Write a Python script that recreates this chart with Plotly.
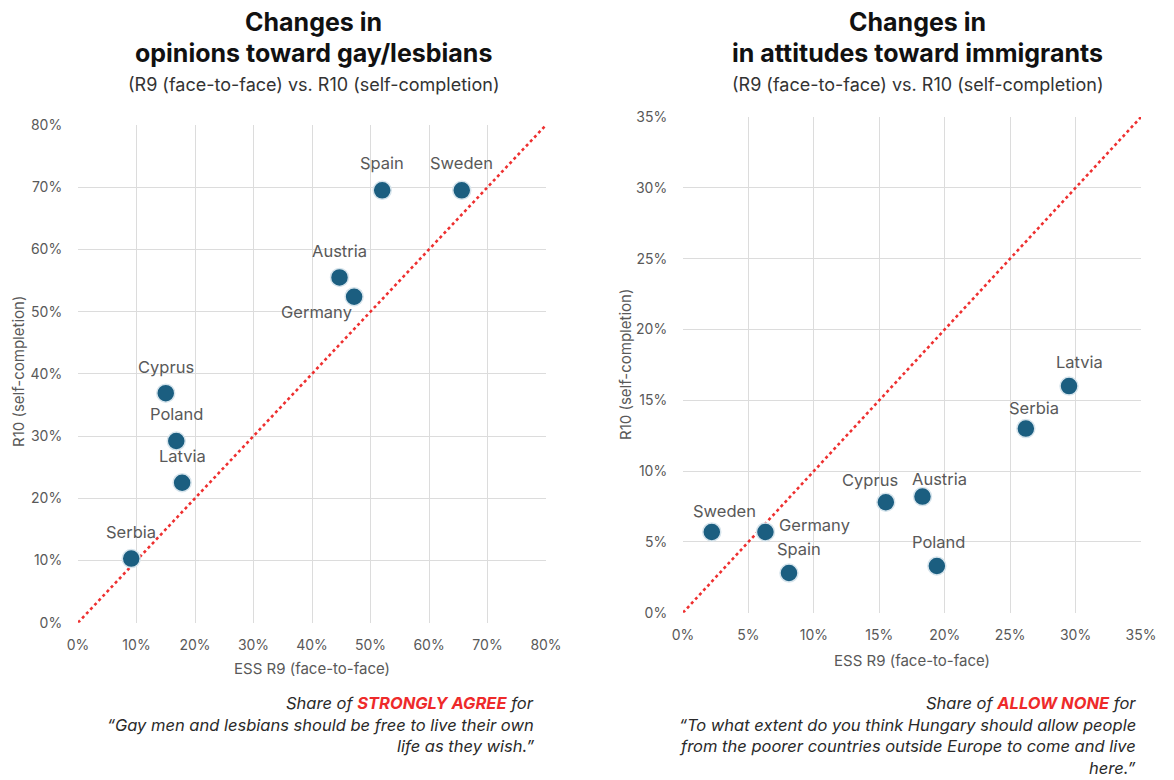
import plotly.graph_objects as go

# ---- data ----
gay_countries = ["Spain", "Sweden", "Austria", "Germany", "Cyprus", "Poland", "Latvia", "Serbia"]
gay_r9 = [52.0, 65.6, 44.7, 47.2, 15.0, 16.8, 17.8, 9.1]
gay_r10 = [69.5, 69.5, 55.5, 52.4, 36.9, 29.2, 22.5, 10.3]

imm_countries = ["Sweden", "Germany", "Spain", "Cyprus", "Austria", "Poland", "Serbia", "Latvia"]
imm_r9 = [2.2, 6.3, 8.1, 15.5, 18.3, 19.4, 26.2, 29.5]
imm_r10 = [5.7, 5.7, 2.8, 7.8, 8.2, 3.3, 13.0, 16.0]

gay_range = [0, 80]
imm_range = [0, 35]
gay_ticks = [0, 10, 20, 30, 40, 50, 60, 70, 80]
imm_ticks = [0, 5, 10, 15, 20, 25, 30, 35]

# label offsets in pixels (dx, dy upward)
gay_offsets = [(0, 27), (0, 27), (0, 26), (-38, -15), (0, 26), (0, 27), (0, 27), (0, 27)]
imm_offsets = [(13, 21), (49, 7), (10, 24), (-16, 22), (17, 18), (2, 24), (8, 21), (10, 24)]

FONT = "Inter"
GREY = "#595959"
MARK = "#1b5e80"
OFF = 8                      # page body margin
W, H = 1174 - OFF, 780 - OFF


def px(xp):
    return (xp - OFF) / W


def py(yp):
    return 1 - (yp - OFF) / H


fig = go.Figure()

for rng, xa, ya in [(gay_range, "x", "y"), (imm_range, "x2", "y2")]:
    fig.add_trace(go.Scatter(x=rng, y=rng, mode="lines",
                             line=dict(color="#ee3030", width=2.6, dash="dot"),
                             xaxis=xa, yaxis=ya, hoverinfo="skip", showlegend=False))

for xs, ys, names, xa, ya in [(gay_r9, gay_r10, gay_countries, "x", "y"),
                              (imm_r9, imm_r10, imm_countries, "x2", "y2")]:
    fig.add_trace(go.Scatter(x=xs, y=ys, text=names, mode="markers",
                             marker=dict(size=18, color=MARK, line=dict(color="#d6e4ec", width=1.5)),
                             xaxis=xa, yaxis=ya, showlegend=False, cliponaxis=False))


def axis(domain, anchor, rng, ticks, ticklen):
    return dict(domain=domain, anchor=anchor, range=rng, tickvals=ticks,
                ticktext=[f"{t}%" for t in ticks],
                showgrid=True, gridcolor="#dcdcdc", gridwidth=1, zeroline=False,
                showline=False, ticks="outside", ticklen=ticklen,
                tickcolor="rgba(0,0,0,0)", automargin=False,
                tickfont=dict(family=FONT, size=14, color=GREY))


fig.update_layout(
    width=W, height=H, margin=dict(l=0, r=0, t=0, b=0, autoexpand=False),
    paper_bgcolor="white", plot_bgcolor="white",
    xaxis=axis([px(78), px(546)], "y", gay_range, gay_ticks, 9),
    yaxis=axis([py(622.7), py(125)], "x", gay_range, gay_ticks, 12),
    xaxis2=axis([px(683), px(1141)], "y2", imm_range, imm_ticks, 9),
    yaxis2=axis([py(612.7), py(117)], "x2", imm_range, imm_ticks, 12),
)

ann = []

# point labels
for xs, ys, names, offs, xr, yr in [(gay_r9, gay_r10, gay_countries, gay_offsets, "x", "y"),
                                    (imm_r9, imm_r10, imm_countries, imm_offsets, "x2", "y2")]:
    for xv, yv, name, (dx, dy) in zip(xs, ys, names, offs):
        ann.append(dict(x=xv, y=yv, xref=xr, yref=yr, text=name, showarrow=False,
                        xshift=dx, yshift=dy, xanchor="center", yanchor="middle",
                        font=dict(family=FONT, size=16.5, color=GREY)))

# axis titles
for cx, cy in [(312, 668), (912, 660)]:
    ann.append(dict(x=px(cx), y=py(cy), xref="paper", yref="paper", showarrow=False,
                    text="ESS R9 (face-to-face)", xanchor="center", yanchor="middle",
                    font=dict(family=FONT, size=15, color=GREY)))
for cx, cy in [(18, 372), (625, 365)]:
    ann.append(dict(x=px(cx), y=py(cy), xref="paper", yref="paper", showarrow=False,
                    text="R10 (self-completion)", textangle=-90,
                    xanchor="center", yanchor="middle",
                    font=dict(family=FONT, size=15, color=GREY)))


def title_block(cx, line2):
    ann.append(dict(x=px(cx), y=py(22), xref="paper", yref="paper", showarrow=False,
                    text="<b>Changes in</b>", font=dict(family=FONT, size=25, color="#111"),
                    xanchor="center", yanchor="middle"))
    ann.append(dict(x=px(cx), y=py(53), xref="paper", yref="paper", showarrow=False,
                    text="<b>" + line2 + "</b>", font=dict(family=FONT, size=25, color="#111"),
                    xanchor="center", yanchor="middle"))
    ann.append(dict(x=px(cx), y=py(84), xref="paper", yref="paper", showarrow=False,
                    text="(R9 (face-to-face) vs. R10 (self-completion)",
                    font=dict(family=FONT, size=18, color="#333"),
                    xanchor="center", yanchor="middle"))


title_block(313, "opinions toward gay/lesbians")
title_block(917, "in attitudes toward immigrants")


def note(xr, lines, y0=703, dy=21.5):
    for i, t in enumerate(lines):
        ann.append(dict(x=px(xr), y=py(y0 + i * dy), xref="paper", yref="paper",
                        showarrow=False, text="<i>" + t + "</i>",
                        font=dict(family=FONT, size=16.5, color="#2a2a2a"),
                        xanchor="right", yanchor="middle"))


RED = "<b><span style='color:#ee2a2a'>{}</span></b>"
note(536, ["Share of " + RED.format("STRONGLY AGREE") + " for",
           "\u201cGay men and lesbians should be free to live their own",
           "life as they wish.\u201d"])
note(1138, ["Share of " + RED.format("ALLOW NONE") + " for",
            "\u201cTo what extent do you think Hungary should allow people",
            "from the poorer countries outside Europe to come and live",
            "here.\u201d"])

fig.update_layout(annotations=ann)
fig.write_html("out.html")
